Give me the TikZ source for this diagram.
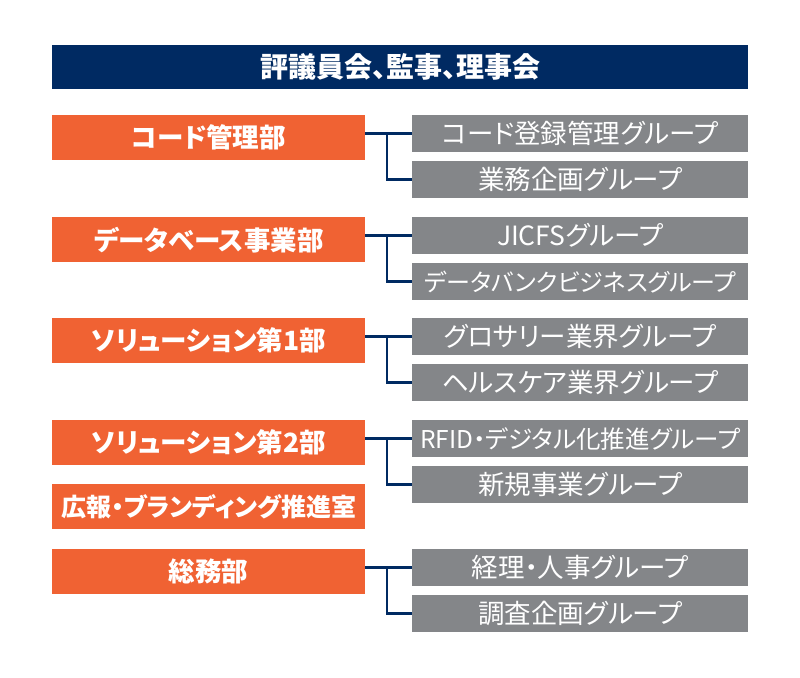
\documentclass[tikz,border=0pt]{standalone}
\usepackage{fontspec}
\setmainfont{Noto Sans CJK JP}[RawFeature=+palt]
\definecolor{navy}{HTML}{002A62}
\definecolor{orng}{HTML}{F06233}
\definecolor{gry}{HTML}{848689}
\tikzset{
  topbar/.style={fill=navy, text=white, inner sep=0pt, anchor=north west, minimum width=696pt, minimum height=44pt, font=\fontsize{28pt}{32pt}\selectfont\bfseries},
  dept/.style={fill=orng, text=white, inner sep=0pt, anchor=north west, minimum width=313pt, minimum height=45pt, font=\fontsize{26.5pt}{30pt}\selectfont\bfseries},
  grp/.style={fill=gry, text=white, inner sep=0pt, anchor=north west, minimum width=336pt, minimum height=37pt, font=\fontsize{26.5pt}{30pt}\selectfont},
  conn/.style={draw=navy, line width=2.5pt}
}
\begin{document}
\begin{tikzpicture}[x=1pt,y=-1pt]
\useasboundingbox (0,0) rectangle (800,677);
\node[topbar] (top) at (52,45) {評議員会、監事、理事会};
\coordinate (jx) at (387,0);
% row 1
\node[dept] (o1) at (52,115) {コード管理部};
\node[grp] (g1a) at (412,115) {コード登録管理グループ};
\node[grp] (g1b) at (412,161) {業務企画グループ};
% row 2
\node[dept] (o2) at (52,217) {データベース事業部};
\node[grp] (g2a) at (412,217) {JICFSグループ};
\node[grp, font=\fontsize{24pt}{30pt}\selectfont] (g2b) at (412,263) {データバンクビジネスグループ};
% row 3
\node[dept] (o3) at (52,318) {ソリューション第1部};
\node[grp] (g3a) at (412,318) {グロサリー業界グループ};
\node[grp] (g3b) at (412,364) {ヘルスケア業界グループ};
% row 4
\node[dept] (o4) at (52,420) {ソリューション第2部};
\node[grp, font=\fontsize{24.5pt}{30pt}\selectfont] (g4a) at (412,420) {RFID・デジタル化推進グループ};
\node[grp] (g4b) at (412,466) {新規事業グループ};
\node[dept, font=\fontsize{25pt}{30pt}\selectfont\bfseries] (o5) at (52,484) {広報・ブランディング推進室};
% row 6
\node[dept] (o6) at (52,549) {総務部};
\node[grp] (g6a) at (412,549) {経理・人事グループ};
\node[grp] (g6b) at (412,595) {調査企画グループ};
% connectors
\foreach \o/\a/\b in {o1/g1a/g1b, o2/g2a/g2b, o3/g3a/g3b, o4/g4a/g4b, o6/g6a/g6b}{
  \draw[conn] (\o.east |- \a.west) -- (\a.west);
  \draw[conn] (jx |- \a.west) |- (\b.west);
}
\end{tikzpicture}
\end{document}
